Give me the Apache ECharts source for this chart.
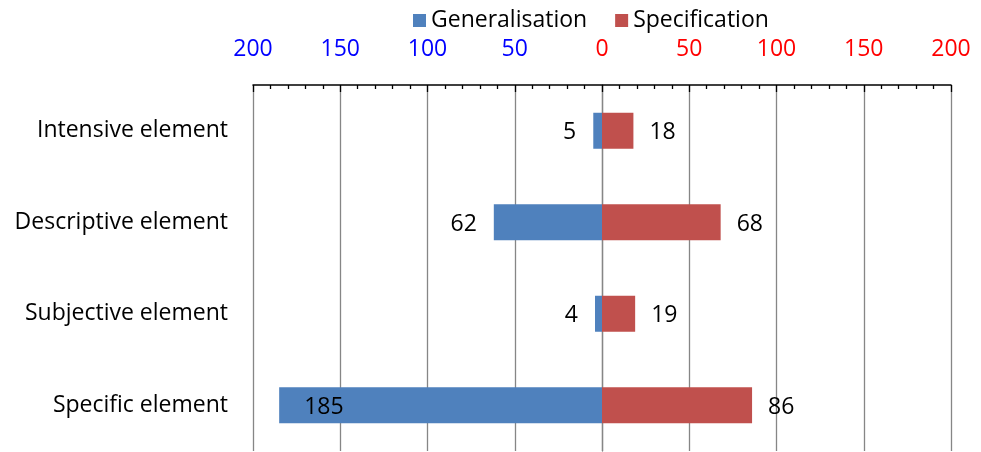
<!DOCTYPE html>
<html>
<head>
<meta charset="utf-8">
<script src="https://cdn.jsdelivr.net/npm/echarts@6/dist/echarts.min.js"></script>
<style>
  html, body { margin: 0; padding: 0; background: #fff; }
  #chart { width: 981px; height: 452px; }
</style>
</head>
<body>
<div id="chart"></div>
<script>
// Categories, top to bottom
const categories = ['Intensive element', 'Descriptive element', 'Subjective element', 'Specific element'];
// Counts per category
const generalisation = [5, 62, 4, 185];
const specification = [18, 68, 19, 86];
// Axis bounds and step
const axisMin = -200;
const axisMax = 200;
const axisStep = 50;

const FONT = '"Open Sans", "Noto Sans", sans-serif';
const FS = 23;
const GRID_GREY = '#868686';

const chart = echarts.init(document.getElementById('chart'), null, { renderer: 'canvas' });

// Generalisation is drawn to the left of zero as negative values
const genData = generalisation.map(function (v) {
  const item = { value: -v };
  if (v > 100) {
    item.label = { position: 'insideLeft', distance: 25 };
  }
  return item;
});

chart.setOption({
  animation: false,
  backgroundColor: '#fff',
  textStyle: { fontFamily: FONT },
  legend: {
    left: 408,
    top: 4,
    itemWidth: 13,
    itemHeight: 13,
    itemGap: 28,
    icon: 'rect',
    textStyle: { fontFamily: FONT, fontSize: FS, color: '#000' },
    data: ['Generalisation', 'Specification']
  },
  grid: { left: 253, right: 30, top: 85, bottom: 1, containLabel: false },
  xAxis: {
    type: 'value',
    position: 'top',
    min: axisMin,
    max: axisMax,
    interval: axisStep,
    axisLine: { show: true, lineStyle: { color: '#000', width: 1.5 } },
    axisTick: { show: true, inside: true, length: 7, lineStyle: { color: '#000', width: 1.3 } },
    minorTick: { show: true, splitNumber: 5, length: 4, lineStyle: { color: '#000', width: 1.3 } },
    splitLine: { show: true, lineStyle: { color: GRID_GREY, width: 1.3 } },
    axisLabel: {
      margin: 24,
      fontSize: FS,
      fontFamily: FONT,
      formatter: function (v) {
        return v < 0 ? '{n|' + Math.abs(v) + '}' : '{p|' + v + '}';
      },
      rich: {
        n: { color: '#0000ff', fontSize: FS, fontFamily: FONT },
        p: { color: '#ff0000', fontSize: FS, fontFamily: FONT }
      }
    }
  },
  yAxis: {
    type: 'category',
    inverse: true,
    data: categories,
    axisLine: { show: true, lineStyle: { color: GRID_GREY, width: 1.3 } },
    axisTick: { show: false },
    axisLabel: { margin: 25, fontSize: FS, fontFamily: FONT, color: '#000', padding: [6, 0, 0, 0] }
  },
  series: [
    {
      name: 'Generalisation',
      type: 'bar',
      stack: 'total',
      barWidth: 36,
      itemStyle: { color: '#4F81BD' },
      label: {
        show: true,
        position: 'left',
        distance: 17,
        offset: [0, 2],
        fontSize: FS,
        fontFamily: FONT,
        color: '#000',
        formatter: function (p) { return Math.abs(p.value); }
      },
      data: genData
    },
    {
      name: 'Specification',
      type: 'bar',
      stack: 'total',
      barWidth: 36,
      itemStyle: { color: '#C0504D' },
      label: {
        show: true,
        position: 'right',
        distance: 16,
        offset: [0, 2],
        fontSize: FS,
        fontFamily: FONT,
        color: '#000'
      },
      data: specification
    }
  ]
});
</script>
</body>
</html>
